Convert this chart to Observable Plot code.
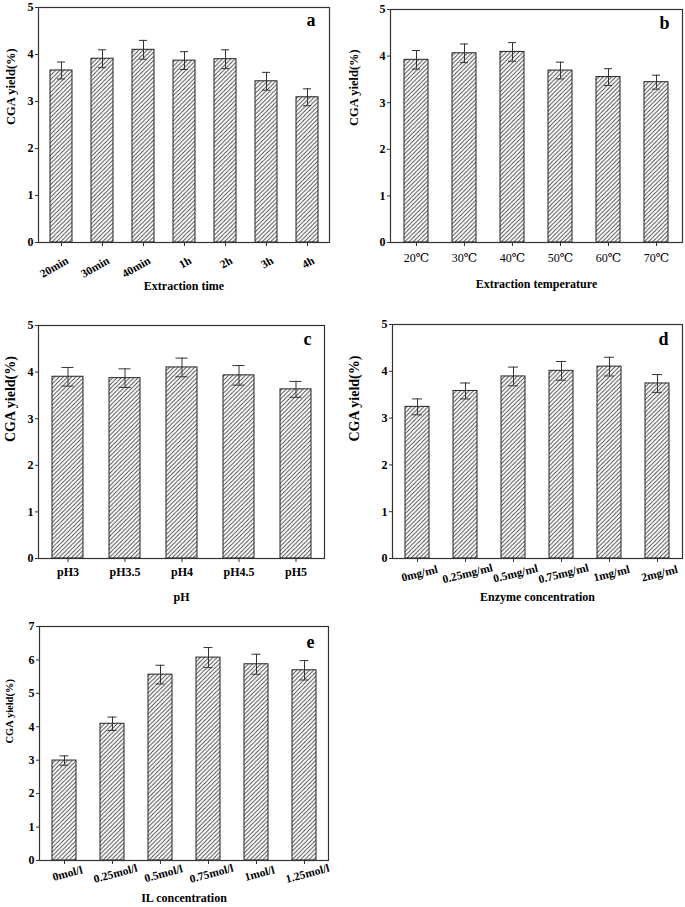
<!DOCTYPE html>
<html>
<head>
<meta charset="utf-8">
<script src="https://cdn.jsdelivr.net/npm/d3@7"></script>
<script src="https://cdn.jsdelivr.net/npm/@observablehq/plot@0.6"></script>
<style>
  html, body { margin: 0; padding: 0; background: #fff; }
  #root { position: relative; width: 685px; height: 907px; background: #fff; overflow: hidden; }
  #root svg { position: absolute; overflow: visible; }
</style>
</head>
<body>
<div id="root"></div>
<script>
// ---- data ----
const timeLabels = ["20min", "30min", "40min", "1h", "2h", "3h", "4h"];
const timeYield  = [3.66, 3.91, 4.10, 3.87, 3.90, 3.43, 3.09];
const timeErr    = [0.18, 0.19, 0.20, 0.19, 0.20, 0.19, 0.18];

const tempLabels = ["20℃", "30℃", "40℃", "50℃", "60℃", "70℃"];
const tempYield  = [3.92, 4.06, 4.09, 3.69, 3.55, 3.44];
const tempErr    = [0.20, 0.20, 0.20, 0.18, 0.18, 0.15];

const phLabels = ["pH3", "pH3.5", "pH4", "pH4.5", "pH5"];
const phYield  = [3.90, 3.87, 4.10, 3.93, 3.63];
const phErr    = [0.20, 0.20, 0.20, 0.21, 0.17];

const enzymeLabels = ["0mg/ml", "0.25mg/ml", "0.5mg/ml", "0.75mg/ml", "1mg/ml", "2mg/ml"];
const enzymeYield  = [3.24, 3.58, 3.89, 4.01, 4.10, 3.74];
const enzymeErr    = [0.17, 0.17, 0.20, 0.20, 0.20, 0.19];

const ilLabels = ["0mol/l", "0.25mol/l", "0.5mol/l", "0.75mol/l", "1mol/l", "1.25mol/l"];
const ilYield  = [2.99, 4.09, 5.56, 6.07, 5.87, 5.69];
const ilErr    = [0.14, 0.20, 0.28, 0.30, 0.30, 0.29];

const yTitle = "CGA yield(%)";
const serif = "'Liberation Serif', 'Times New Roman', 'DejaVu Serif', serif";

function panel(cfg) {
  const data = cfg.labels.map((k, i) => ({k, v: cfg.values[i], e: cfg.errs[i]}));
  const svg = Plot.plot({
    width: cfg.width,
    height: cfg.height,
    marginLeft: cfg.mL, marginRight: cfg.mR, marginTop: cfg.mT, marginBottom: cfg.mB,
    style: {fontFamily: serif, fontSize: "12px", fontWeight: "bold", color: "#000", background: "transparent", overflow: "visible"},
    x: {type: "band", domain: cfg.labels, paddingInner: cfg.pad, paddingOuter: cfg.pad / 2, axis: null},
    y: {domain: [0, cfg.yMax], axis: null},
    marks: [
      Plot.barY(data, {x: "k", y: "v", fill: `url(#hatch-${cfg.letter})`, stroke: "#222", strokeWidth: 1}),
      Plot.ruleX(data, {x: "k", y1: d => d.v - d.e, y2: d => d.v + d.e, stroke: "#333", strokeWidth: 1}),
      Plot.tickY(data, {x: "k", y: d => d.v + d.e, stroke: "#333", strokeWidth: 1, insetLeft: cfg.capInset, insetRight: cfg.capInset}),
      Plot.tickY(data, {x: "k", y: d => d.v - d.e, stroke: "#333", strokeWidth: 1, insetLeft: cfg.capInset, insetRight: cfg.capInset}),
      Plot.frame({stroke: "#333", strokeWidth: 1.2}),
      Plot.axisY({ticks: d3.range(0, cfg.yMax + 1), tickFormat: d3.format("d"), tickSize: 3, tickPadding: 2, label: null, fontSize: 12, fontWeight: "bold", stroke: "#333"}),
      Plot.axisX({tickSize: 4, tickFormat: () => "", label: null, stroke: "#333"}),
      Plot.text(data, {
        x: "k", text: "k", frameAnchor: "bottom",
        dx: cfg.lblDx, dy: cfg.lblDy, rotate: cfg.rotate,
        textAnchor: cfg.lblAnchor, lineAnchor: "middle",
        fontSize: cfg.lblSize, fontWeight: cfg.lblWeight
      }),
      Plot.text([cfg.xTitle], {frameAnchor: "bottom", dy: cfg.xTitleDy, lineAnchor: "middle", fontSize: 12, fontWeight: "bold"}),
      Plot.text([yTitle], {frameAnchor: "left", dx: cfg.yTitleDx, rotate: -90, lineAnchor: "middle", fontSize: cfg.yTitleSize, fontWeight: "bold"}),
      Plot.text([cfg.letter], {frameAnchor: "top-right", dx: cfg.letterDx, dy: cfg.letterDy, lineAnchor: "middle", fontSize: 18, fontWeight: "bold"})
    ]
  });
  const defs = d3.select(svg).insert("defs", ":first-child");
  const s = 4.2;
  const pat = defs.append("pattern")
    .attr("id", `hatch-${cfg.letter}`)
    .attr("patternUnits", "userSpaceOnUse")
    .attr("width", s).attr("height", s);
  pat.append("rect").attr("width", s).attr("height", s).attr("fill", "#fff");
  pat.append("path")
    .attr("d", `M0,${s} L${s},0 M${-s/2},${s/2} L${s/2},${-s/2} M${s/2},${s*1.5} L${s*1.5},${s/2}`)
    .attr("stroke", "#3a3a3a").attr("stroke-width", 0.85);
  svg.style.left = cfg.left + "px";
  svg.style.top = cfg.top + "px";
  document.getElementById("root").appendChild(svg);
}

panel({letter: "a", labels: timeLabels, values: timeYield, errs: timeErr, yMax: 5,
  left: 0, top: 0, width: 340, height: 300, mL: 38, mR: 11, mT: 7, mB: 58,
  pad: 0.47, capInset: 7, rotate: -30, lblDx: 6, lblDy: 17, lblAnchor: "end", lblSize: 11.5, lblWeight: "bold",
  xTitle: "Extraction time", xTitleDy: 44, yTitleDx: -28, yTitleSize: 12.5, letterDx: -14, letterDy: 13});

panel({letter: "b", labels: tempLabels, values: tempYield, errs: tempErr, yMax: 5,
  left: 340, top: 0, width: 345, height: 300, mL: 50, mR: 3, mT: 9, mB: 58,
  pad: 0.49, capInset: 8, rotate: 0, lblDx: 0, lblDy: 16, lblAnchor: "middle", lblSize: 12, lblWeight: "normal",
  xTitle: "Extraction temperature", xTitleDy: 42, yTitleDx: -37, yTitleSize: 12.5, letterDx: -13, letterDy: 14});

panel({letter: "c", labels: phLabels, values: phYield, errs: phErr, yMax: 5,
  left: 0, top: 310, width: 340, height: 300, mL: 38, mR: 16, mT: 15, mB: 52,
  pad: 0.46, capInset: 9.5, rotate: 0, lblDx: 0, lblDy: 14, lblAnchor: "middle", lblSize: 12, lblWeight: "bold",
  xTitle: "pH", xTitleDy: 39, yTitleDx: -28, yTitleSize: 14, letterDx: -13, letterDy: 14});

panel({letter: "d", labels: enzymeLabels, values: enzymeYield, errs: enzymeErr, yMax: 5,
  left: 340, top: 310, width: 345, height: 300, mL: 52, mR: 3, mT: 14, mB: 52,
  pad: 0.5, capInset: 7, rotate: -14, lblDx: 2, lblDy: 15, lblAnchor: "middle", lblSize: 11.5, lblWeight: "bold",
  xTitle: "Enzyme concentration", xTitleDy: 39, yTitleDx: -38, yTitleSize: 14, letterDx: -14, letterDy: 15});

panel({letter: "e", labels: ilLabels, values: ilYield, errs: ilErr, yMax: 7,
  left: 0, top: 610, width: 340, height: 297, mL: 39, mR: 12, mT: 16, mB: 47,
  pad: 0.5, capInset: 7.5, rotate: -15, lblDx: 3, lblDy: 13, lblAnchor: "middle", lblSize: 11.5, lblWeight: "bold",
  xTitle: "IL concentration", xTitleDy: 38, yTitleDx: -30, yTitleSize: 10.5, letterDx: -14, letterDy: 16});
</script>
</body>
</html>
